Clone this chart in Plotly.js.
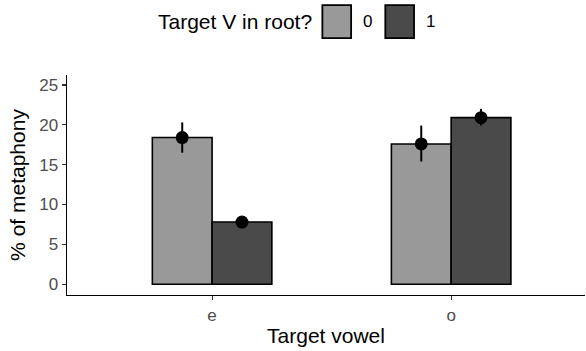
<!DOCTYPE html>
<html>
<head>
<meta charset="utf-8">
<script src="https://cdn.plot.ly/plotly-3.0.1.min.js"></script>
<style>html,body{margin:0;padding:0;background:#fff;}#chart{width:586px;height:351px;}</style>
</head>
<body>
<div id="chart"></div>
<script>
const vowels = ['e', 'o'];
const groups = ['0', '1'];
const pct0 = [18.4, 17.6];
const pct1 = [7.8, 20.9];
const err0Low = [16.5, 15.4];
const err0High = [20.3, 19.9];
const err1Low = [7.6, 19.9];
const err1High = [7.9, 22.0];
const fills = ['#999999', '#4a4a4a'];

const pcts = [pct0, pct1];
const lows = [err0Low, err1Low];
const highs = [err0High, err1High];

const traces = [];
groups.forEach((g, i) => {
  traces.push({
    type: 'bar', x: vowels, y: pcts[i], name: g, offsetgroup: g,
    marker: {color: fills[i], line: {color: '#000', width: 1.6}},
    showlegend: false, hoverinfo: 'skip'
  });
});
groups.forEach((g, i) => {
  traces.push({
    type: 'scatter', mode: 'markers', x: vowels, y: pcts[i], offsetgroup: g,
    marker: {color: '#000', size: 13},
    error_y: {type: 'data', symmetric: false,
      array: highs[i].map((h, k) => h - pcts[i][k]),
      arrayminus: pcts[i].map((v, k) => v - lows[i][k]),
      color: '#000', thickness: 2, width: 0},
    showlegend: false
  });
});

const shapes = [];
const annotations = [
  {text: 'Target V in root?', xref: 'paper', yref: 'paper', x: 0.477, y: 1.243,
   xanchor: 'right', yanchor: 'middle', showarrow: false, font: {size: 21, color: '#000'}}
];
groups.forEach((g, i) => {
  const x0 = 0.493 + i * 0.1215;
  shapes.push({type: 'rect', xref: 'paper', yref: 'paper', x0: x0, x1: x0 + 0.0555,
    y0: 1.168, y1: 1.318, fillcolor: fills[i], line: {color: '#000', width: 1.8}});
  annotations.push({text: g, xref: 'paper', yref: 'paper', x: x0 + 0.074, y: 1.243,
    xanchor: 'left', yanchor: 'middle', showarrow: false, font: {size: 17, color: '#000000'}});
});

const layout = {
  width: 586, height: 351,
  margin: {l: 67, r: 1, t: 75, b: 56},
  paper_bgcolor: '#fff', plot_bgcolor: '#fff',
  font: {family: 'Liberation Sans, Arial, sans-serif', color: '#000'},
  barmode: 'group', bargap: 0.5, bargroupgap: 0,
  scattermode: 'group',
  showlegend: false,
  xaxis: {
    type: 'category', range: [-0.607, 1.56],
    showline: true, linecolor: '#000', linewidth: 1.4,
    ticks: 'outside', ticklen: 4, tickcolor: '#333', tickwidth: 1.2,
    showgrid: false, zeroline: false,
    tickfont: {size: 17, color: '#4d4d4d'},
    title: {text: 'Target vowel', font: {size: 21, color: '#000'}, standoff: 4}
  },
  yaxis: {
    range: [-1.35, 26.25],
    tickvals: [0, 5, 10, 15, 20, 25],
    showline: true, linecolor: '#000', linewidth: 1.4,
    ticks: 'outside', ticklen: 4, tickcolor: '#333', tickwidth: 1.2,
    showgrid: false, zeroline: false,
    tickfont: {size: 17, color: '#4d4d4d'},
    title: {text: '% of metaphony', font: {size: 21, color: '#000'}, standoff: 8}
  },
  shapes: shapes,
  annotations: annotations
};

Plotly.newPlot('chart', traces, layout, {displayModeBar: false, staticPlot: true});
</script>
</body>
</html>
